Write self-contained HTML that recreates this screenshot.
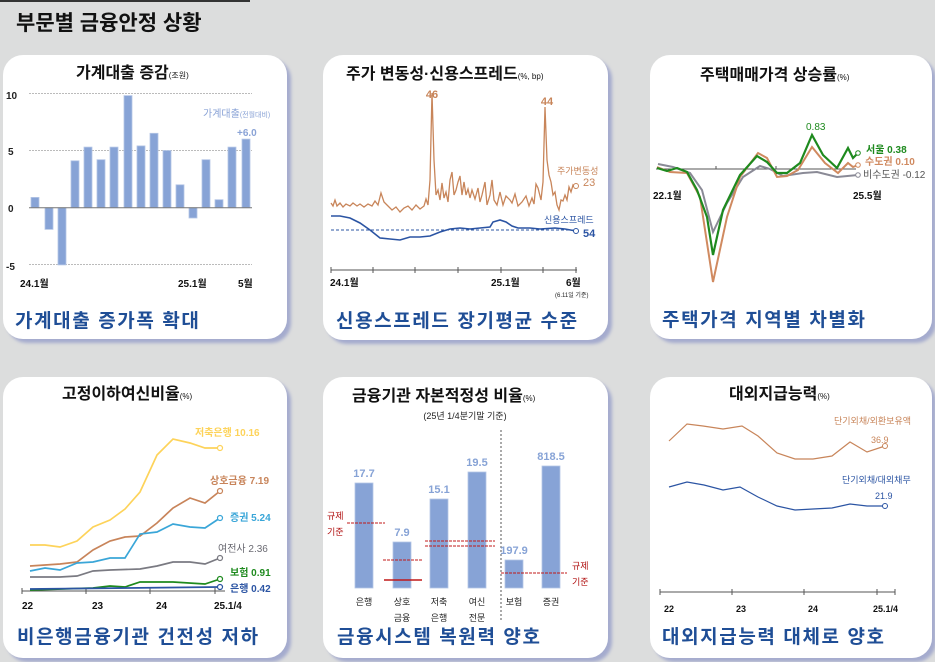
<!DOCTYPE html>
<html><head><meta charset="utf-8"><style>
html,body{margin:0;padding:0;background:#dcdddd;}
svg{display:block;font-family:"Liberation Sans","Noto Sans CJK KR",sans-serif;}
</style></head><body>
<svg width="935" height="662" viewBox="0 0 935 662">
<rect x="0" y="0" width="935" height="662" fill="#dcdddd"/>
<rect x="0" y="0" width="250" height="2" fill="#333"/>
<text x="16" y="30" font-size="21" font-weight="bold" fill="#111">부문별 금융안정 상황</text>
<defs><filter id="sh" x="-5%" y="-5%" width="115%" height="115%"><feDropShadow dx="4" dy="4" stdDeviation="1.5" flood-color="#9fa5cc" flood-opacity="0.9"/></filter></defs>
<g fill="#fff" filter="url(#sh)">
<rect x="3" y="55" width="284" height="284" rx="20"/>
<rect x="323" y="55" width="285" height="285" rx="20"/>
<rect x="650" y="55" width="282" height="284" rx="20"/>
<rect x="3" y="377" width="284" height="281" rx="20"/>
<rect x="323" y="377" width="285" height="281" rx="20"/>
<rect x="650" y="377" width="282" height="281" rx="20"/>
</g>

<!-- Panel 1 -->
<text x="76" y="78" font-size="16" font-weight="bold" fill="#111">가계대출 증감<tspan font-size="8" font-weight="normal">(조원)</tspan></text>
<g stroke="#bbb" stroke-dasharray="2,1" stroke-width="1">
<line x1="29" y1="93.5" x2="252" y2="93.5"/><line x1="29" y1="150.5" x2="252" y2="150.5"/><line x1="29" y1="264.5" x2="252" y2="264.5"/>
</g>
<g font-size="10" font-weight="bold" fill="#222">
<text x="6" y="99">10</text><text x="8" y="155">5</text><text x="8" y="212">0</text><text x="6" y="270">-5</text>
</g>
<g fill="#87a3d6" stroke="#b5c6e6" stroke-width="0.8">
<rect x="31" y="197.4" width="8" height="10.3"/>
<rect x="45" y="207.7" width="8" height="21.7"/>
<rect x="58" y="207.7" width="8" height="57.2"/>
<rect x="71" y="160.8" width="8" height="46.9"/>
<rect x="84" y="147.1" width="8" height="60.6"/>
<rect x="97" y="159.7" width="8" height="48"/>
<rect x="110" y="147.1" width="8" height="60.6"/>
<rect x="124" y="95.6" width="8" height="112.1"/>
<rect x="137" y="145.9" width="8" height="61.8"/>
<rect x="150" y="133.3" width="8" height="74.4"/>
<rect x="163" y="150.5" width="8" height="57.2"/>
<rect x="176" y="184.8" width="8" height="22.9"/>
<rect x="189" y="207.7" width="8" height="10.3"/>
<rect x="202" y="159.7" width="8" height="48"/>
<rect x="215" y="199.7" width="8" height="8"/>
<rect x="228" y="147.1" width="8" height="60.6"/>
<rect x="242" y="139.1" width="8" height="68.6"/>
</g>
<line x1="29" y1="207.7" x2="252" y2="207.7" stroke="#777" stroke-width="1"/>
<text x="203" y="117" font-size="10" fill="#8aa3d6">가계대출<tspan font-size="7">(전월대비)</tspan></text>
<text x="237" y="136" font-size="10" font-weight="bold" fill="#8aa3d6">+6.0</text>
<g font-size="10" font-weight="bold" fill="#111">
<text x="20" y="287">24.1월</text><text x="178" y="287">25.1월</text><text x="238" y="287">5월</text>
</g>
<text x="15" y="327" font-size="19" font-weight="bold" fill="#1f4e96" letter-spacing="1.6">가계대출 증가폭 확대</text>

<!-- Panel 2 -->
<text x="346" y="79" font-size="16" font-weight="bold" fill="#111">주가 변동성·신용스프레드<tspan font-size="8" font-weight="normal">(%, bp)</tspan></text>
<polyline fill="none" stroke="#c8855a" stroke-width="1.3" points="331,203 333,206 335,200 337,206 340,203 343,207 346,204 350,206 353,203 357,206 360,204 364,207 368,204 372,206 375,201 378,205 381,193 384,202 388,206 392,210 396,207 400,212 404,208 408,206 412,210 416,205 420,209 424,206 426,199 428,205 430,180 432,93 434,160 436,195 438,190 440,200 442,183 444,198 446,192 448,202 450,180 452,172 454,195 456,190 458,182 460,176 462,195 464,182 466,195 468,189 470,198 472,190 475,199 478,188 480,202 482,195 485,182 487,205 490,195 492,180 494,200 497,205 500,192 503,205 506,196 510,200 512,203 515,194 518,206 522,202 526,196 529,206 532,198 534,204 536,184 538,188 541,200 543,182 545,107 547,160 549,175 551,182 553,195 555,192 557,205 559,210 561,200 563,201 565,195 567,200 569,187 571,192 573,185 575,188 576,186"/>
<circle cx="576" cy="186" r="2.5" fill="#fff" stroke="#c8855a"/>
<line x1="331" y1="230" x2="576" y2="230" stroke="#2b54a3" stroke-width="1" stroke-dasharray="3,2"/>
<polyline fill="none" stroke="#2b54a3" stroke-width="1.6" points="331,216 340,216 350,218 360,223 370,230 380,238 390,239 400,240 410,237 420,237 430,236 440,232 450,229 460,228 470,229 480,228 490,227 493,222 500,220 506,222 512,226 518,228 530,228 540,229 555,228 565,229 576,231"/>
<circle cx="576" cy="231" r="2.5" fill="#fff" stroke="#2b54a3"/>
<text x="432" y="98" font-size="11" font-weight="bold" fill="#c8855a" text-anchor="middle">46</text>
<text x="547" y="105" font-size="11" font-weight="bold" fill="#c8855a" text-anchor="middle">44</text>
<text x="557" y="174" font-size="9" fill="#c8855a">주가변동성</text>
<text x="583" y="186" font-size="11" fill="#c8855a">23</text>
<text x="544" y="223" font-size="9" fill="#2b54a3">신용스프레드</text>
<text x="583" y="237" font-size="11" font-weight="bold" fill="#2b54a3">54</text>
<line x1="331" y1="270" x2="577" y2="270" stroke="#555" stroke-width="1"/>
<g stroke="#555"><line x1="331" y1="267" x2="331" y2="273"/><line x1="373" y1="267" x2="373" y2="273"/><line x1="415" y1="267" x2="415" y2="273"/><line x1="458" y1="267" x2="458" y2="273"/><line x1="501" y1="267" x2="501" y2="273"/><line x1="543" y1="267" x2="543" y2="273"/><line x1="576" y1="267" x2="576" y2="273"/></g>
<g font-size="10" font-weight="bold" fill="#111"><text x="330" y="286">24.1월</text><text x="491" y="286">25.1월</text><text x="566" y="286">6월</text></g>
<text x="555" y="297" font-size="6" fill="#222">(6.11일 기준)</text>
<text x="336" y="327" font-size="19" font-weight="bold" fill="#1f4e96" letter-spacing="1.6">신용스프레드 장기평균 수준</text>

<!-- Panel 3 -->
<text x="700" y="80" font-size="16" font-weight="bold" fill="#111">주택매매가격 상승률<tspan font-size="8" font-weight="normal">(%)</tspan></text>
<line x1="656" y1="169" x2="856" y2="169" stroke="#555"/>
<line x1="716" y1="166" x2="716" y2="169" stroke="#555"/><line x1="776" y1="166" x2="776" y2="169" stroke="#555"/>
<polyline fill="none" stroke="#8a8a96" stroke-width="2" points="658,164 673,167 690,173 702,190 713,232 727,203 743,177 760,166 770,169 783,176 803,173 817,172 837,177 858,175"/>
<polyline fill="none" stroke="#d08a60" stroke-width="2" points="657,167 670,172 687,173 700,197 713,282 727,217 740,177 758,153 767,158 777,177 787,176 798,170 812,147 825,163 838,173 848,163 853,167 858,165"/>
<polyline fill="none" stroke="#1e8a1e" stroke-width="2.2" points="657,168 667,171 677,168 687,172 697,190 707,217 713,255 723,210 740,175 757,156 767,162 777,173 787,173 800,163 812,135 823,155 837,168 848,148 853,158 858,153"/>
<circle cx="858" cy="153" r="2.3" fill="#fff" stroke="#1e8a1e"/><circle cx="858" cy="165" r="2.3" fill="#fff" stroke="#d08a60"/><circle cx="858" cy="175" r="2.3" fill="#fff" stroke="#8a8a96"/>
<text x="806" y="130" font-size="10" fill="#1e8a1e">0.83</text>
<text x="866" y="153" font-size="10" font-weight="bold" fill="#1e8a1e">서울 0.38</text>
<text x="865" y="165" font-size="10" font-weight="bold" fill="#d08a60">수도권 0.10</text>
<text x="863" y="178" font-size="10" fill="#555">비수도권 -0.12</text>
<g font-size="10" font-weight="bold" fill="#111"><text x="653" y="199">22.1월</text><text x="853" y="199">25.5월</text></g>
<text x="662" y="326" font-size="19" font-weight="bold" fill="#1f4e96" letter-spacing="1.6">주택가격 지역별 차별화</text>

<!-- Panel 4 -->
<text x="62" y="399" font-size="16" font-weight="bold" fill="#111">고정이하여신비율<tspan font-size="8" font-weight="normal">(%)</tspan></text>
<line x1="22" y1="591" x2="225" y2="591" stroke="#555"/>
<g stroke="#555"><line x1="22" y1="588" x2="22" y2="594"/><line x1="86" y1="588" x2="86" y2="594"/><line x1="150" y1="588" x2="150" y2="594"/><line x1="215" y1="588" x2="215" y2="594"/></g>
<g fill="none" stroke-width="1.7">
<polyline stroke="#fdd35a" points="30,545 45,545 60,547 77,541 93,527 110,520 125,509 140,492 157,455 173,439 190,443 205,448 220,448"/>
<polyline stroke="#c8845a" points="30,566 60,564 77,562 93,550 110,541 125,537 140,536 157,523 173,508 190,498 205,503 220,491"/>
<polyline stroke="#3aa6d8" points="30,571 45,568 60,570 77,563 93,562 110,558 125,558 140,534 157,532 173,524 190,527 205,528 220,518"/>
<polyline stroke="#7a7a82" points="30,577 60,577 77,576 93,571 110,570 140,569 157,566 173,562 190,562 205,564 220,558"/>
<polyline stroke="#1e8a1e" points="30,590 93,588 110,586 125,587 140,582 173,582 205,584 220,579"/>
<polyline stroke="#2b54a3" points="30,589 220,587"/>
</g>
<g fill="#fff" stroke-width="1.2"><circle cx="220" cy="448" r="2.5" stroke="#fdd35a"/><circle cx="220" cy="491" r="2.5" stroke="#c8845a"/><circle cx="220" cy="518" r="2.5" stroke="#3aa6d8"/><circle cx="220" cy="558" r="2.5" stroke="#7a7a82"/><circle cx="220" cy="579" r="2.5" stroke="#1e8a1e"/><circle cx="220" cy="587" r="2.5" stroke="#2b54a3"/></g>
<g font-size="10" font-weight="bold">
<text x="195" y="436" fill="#fdd35a">저축은행 10.16</text>
<text x="210" y="484" fill="#c8845a">상호금융 7.19</text>
<text x="230" y="521" fill="#3aa6d8">증권 5.24</text>
<text x="218" y="552" fill="#6a6a72" font-weight="normal">여전사 2.36</text>
<text x="230" y="576" fill="#1e8a1e">보험 0.91</text>
<text x="230" y="592" fill="#2b54a3">은행 0.42</text>
</g>
<g font-size="10" font-weight="bold" fill="#111"><text x="22" y="609">22</text><text x="92" y="609">23</text><text x="156" y="609">24</text><text x="214" y="609">25.1/4</text></g>
<text x="17" y="643" font-size="19" font-weight="bold" fill="#1f4e96" letter-spacing="1.6">비은행금융기관 건전성 저하</text>

<!-- Panel 5 -->
<text x="352" y="401" font-size="16" font-weight="bold" fill="#111">금융기관 자본적정성 비율<tspan font-size="8" font-weight="normal">(%)</tspan></text>
<text x="465" y="419" font-size="9" fill="#222" text-anchor="middle">(25년 1/4분기말 기준)</text>
<line x1="501" y1="430" x2="501" y2="622" stroke="#555" stroke-dasharray="2,2"/>
<g fill="#87a3d6" stroke="#b5c6e6" stroke-width="0.8">
<rect x="355" y="483" width="18" height="105"/><rect x="393" y="542" width="18" height="46"/><rect x="430" y="499" width="18" height="89"/><rect x="468" y="472" width="18" height="116"/><rect x="505" y="560" width="18" height="28"/><rect x="542" y="466" width="18" height="122"/>
</g>
<g font-size="11" font-weight="bold" fill="#87a3d6" text-anchor="middle">
<text x="364" y="477">17.7</text><text x="402" y="536">7.9</text><text x="439" y="493">15.1</text><text x="477" y="466">19.5</text><text x="514" y="554">197.9</text><text x="551" y="460">818.5</text>
</g>
<g stroke="#c01818" stroke-width="1" stroke-dasharray="3,1">
<line x1="347" y1="523" x2="385" y2="523"/><line x1="383" y1="560" x2="422" y2="560"/><line x1="425" y1="541" x2="495" y2="541"/><line x1="425" y1="546" x2="495" y2="546"/><line x1="501" y1="573" x2="567" y2="573"/>
</g>
<line x1="384" y1="580" x2="422" y2="580" stroke="#c01818" stroke-width="1.5"/>
<g font-size="9" fill="#b01010"><text x="327" y="519">규제</text><text x="327" y="535">기준</text><text x="572" y="569">규제</text><text x="572" y="585">기준</text></g>
<g font-size="9" fill="#222" text-anchor="middle">
<text x="364" y="605">은행</text><text x="402" y="605">상호</text><text x="402" y="621">금융</text><text x="439" y="605">저축</text><text x="439" y="621">은행</text><text x="477" y="605">여신</text><text x="477" y="621">전문</text><text x="514" y="605">보험</text><text x="551" y="605">증권</text>
</g>
<text x="337" y="643" font-size="19" font-weight="bold" fill="#1f4e96" letter-spacing="1.6">금융시스템 복원력 양호</text>

<!-- Panel 6 -->
<text x="729" y="399" font-size="16" font-weight="bold" fill="#111">대외지급능력<tspan font-size="8" font-weight="normal">(%)</tspan></text>
<polyline fill="none" stroke="#c8855a" stroke-width="1.2" points="669,441 687,424 703,426 723,429 742,426 758,436 777,453 795,459 813,459 832,456 850,442 867,452 885,446"/>
<polyline fill="none" stroke="#2b54a3" stroke-width="1.2" points="669,487 687,482 704,485 723,490 740,487 758,497 777,506 795,510 813,509 832,508 850,504 867,506 885,506"/>
<circle cx="885" cy="446" r="2.5" fill="#fff" stroke="#c8855a"/><circle cx="885" cy="506" r="2.5" fill="#fff" stroke="#2b54a3"/>
<text x="834" y="424" font-size="9" fill="#c8855a">단기외채/외환보유액</text>
<text x="871" y="443" font-size="9" fill="#c8855a">36.9</text>
<text x="842" y="483" font-size="9" fill="#2b54a3">단기외채/대외채무</text>
<text x="875" y="499" font-size="9" fill="#2b54a3">21.9</text>
<line x1="660" y1="592" x2="895" y2="592" stroke="#555"/>
<g stroke="#555"><line x1="660" y1="589" x2="660" y2="595"/><line x1="732" y1="589" x2="732" y2="595"/><line x1="804" y1="589" x2="804" y2="595"/><line x1="877" y1="589" x2="877" y2="595"/><line x1="895" y1="589" x2="895" y2="595"/></g>
<g font-size="9" font-weight="bold" fill="#111"><text x="664" y="612">22</text><text x="736" y="612">23</text><text x="808" y="612">24</text><text x="873" y="612">25.1/4</text></g>
<text x="662" y="643" font-size="19" font-weight="bold" fill="#1f4e96" letter-spacing="1.6">대외지급능력 대체로 양호</text>
</svg>
</body></html>
